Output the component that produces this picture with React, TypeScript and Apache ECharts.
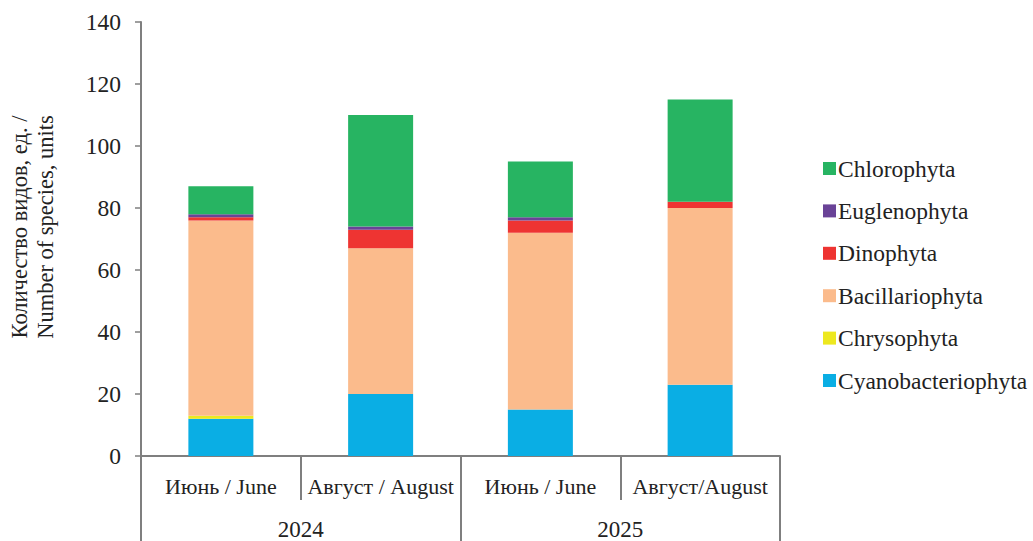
import React, { useEffect, useRef } from "react";
import * as echarts from "echarts";

const months = ["Июнь / June", "Август / August", "Июнь / June", "Август/August"];
const years = ["2024", "2025"];
const yTicks = { min: 0, max: 140, interval: 20 };

const cyanobacteriophyta = [12, 20, 15, 23];
const chrysophyta = [1, 0, 0, 0];
const bacillariophyta = [63, 47, 57, 57];
const dinophyta = [1, 6, 4, 2];
const euglenophyta = [1, 1, 1, 0];
const chlorophyta = [9, 36, 18, 33];

const seriesDefs = [
  { name: "Cyanobacteriophyta", data: cyanobacteriophyta, color: "#0AAEE4" },
  { name: "Chrysophyta", data: chrysophyta, color: "#EDE81F" },
  { name: "Bacillariophyta", data: bacillariophyta, color: "#FBBB8C" },
  { name: "Dinophyta", data: dinophyta, color: "#EE3432" },
  { name: "Euglenophyta", data: euglenophyta, color: "#6A4397" },
  { name: "Chlorophyta", data: chlorophyta, color: "#27B462" },
];

const FONT = "'Liberation Serif', 'Times New Roman', serif";
const AXIS = "#7F7F7F";
const TEXT = "#222222";

export default function App() {
  const ref = useRef<HTMLDivElement>(null);
  useEffect(() => {
    if (!ref.current) return;
    const chart = echarts.init(ref.current, undefined, { renderer: "svg" });
    chart.setOption({
      animation: false,
      textStyle: { fontFamily: FONT },
      grid: { left: 141, right: 253, top: 22, bottom: 83, containLabel: false },
      legend: {
        orient: "vertical",
        left: 818,
        top: 151,
        itemWidth: 13,
        itemHeight: 13,
        itemGap: 17.4,
        icon: "rect",
        data: seriesDefs.map((s) => s.name).reverse(),
        textStyle: { fontFamily: FONT, fontSize: 23.5, lineHeight: 25, color: TEXT, padding: [0, 0, 0, -3] },
      },
      xAxis: [
        {
          type: "category",
          data: months,
          position: "bottom",
          axisLine: { show: true, lineStyle: { color: AXIS, width: 2 } },
          axisTick: { show: true, interval: 0, length: 44, alignWithLabel: false, lineStyle: { color: AXIS, width: 2 } },
          axisLabel: { interval: 0, margin: 19, fontFamily: FONT, fontSize: 22, color: TEXT },
        },
        {
          type: "category",
          data: years,
          position: "bottom",
          offset: 44,
          axisLine: { show: false },
          axisTick: { show: true, interval: 0, length: 45, alignWithLabel: false, lineStyle: { color: AXIS, width: 2 } },
          axisLabel: { interval: 0, margin: 18, fontFamily: FONT, fontSize: 23, color: TEXT },
        },
      ],
      yAxis: {
        type: "value",
        min: yTicks.min,
        max: yTicks.max,
        interval: yTicks.interval,
        axisLine: { show: true, lineStyle: { color: AXIS, width: 2 } },
        axisTick: { show: true, inside: false, length: 6, lineStyle: { color: AXIS, width: 1.5 } },
        splitLine: { show: false },
        axisLabel: { margin: 20, fontFamily: FONT, fontSize: 23.5, color: TEXT },
      },
      graphic: [
        {
          type: "text",
          x: 32,
          y: 227,
          rotation: Math.PI / 2,
          style: {
            text: "Количество видов, ед. /\nNumber of species, units",
            fontFamily: FONT,
            fontSize: 22.5,
            lineHeight: 26,
            fill: TEXT,
            align: "center",
            verticalAlign: "middle",
          },
        },
      ],
      series: seriesDefs.map((s) => ({
        name: s.name,
        type: "bar",
        stack: "total",
        xAxisIndex: 0,
        barWidth: 65,
        data: s.data,
        itemStyle: { color: s.color },
      })),
    });
    return () => chart.dispose();
  }, []);
  return <div ref={ref} style={{ width: 1033, height: 541, position: "absolute", left: 0, top: 0 }} />;
}
